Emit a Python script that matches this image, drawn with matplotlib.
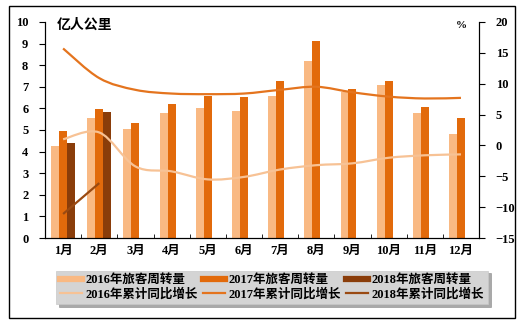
import numpy as np
import matplotlib
matplotlib.use("Agg")
import matplotlib.pyplot as plt
from matplotlib.path import Path
from matplotlib.patches import PathPatch, Rectangle
from matplotlib.lines import Line2D

plt.rcParams['font.family'] = ['Liberation Serif', 'Noto Sans CJK SC', 'DejaVu Sans']

months = ["1月", "2月", "3月", "4月", "5月", "6月", "7月", "8月", "9月", "10月", "11月", "12月"]

# 旅客周转量 (亿人公里)
pkm_2016 = [4.26, 5.54, 5.05, 5.79, 6.02, 5.88, 6.58, 8.19, 6.77, 7.08, 5.80, 4.81]
pkm_2017 = [4.95, 5.99, 5.32, 6.20, 6.57, 6.53, 7.27, 9.13, 6.90, 7.27, 6.08, 5.57]
pkm_2018 = [4.41, 5.82]

# 累计同比增长 (%)
gr_2016 = [1.0, 2.1, -3.4, -4.2, -5.5, -5.1, -3.9, -3.2, -2.9, -2.0, -1.6, -1.45]
gr_2017 = [15.7, 10.9, 9.0, 8.4, 8.3, 8.4, 9.0, 9.5, 8.6, 7.9, 7.6, 7.7]
gr_2018 = [-11.1, -6.1]

c16_bar, c17_bar, c18_bar = "#F9B983", "#E26A0B", "#8A3D0A"
c16_ln, c17_ln, c18_ln = "#F7C295", "#E4741E", "#9A4A12"


def smooth_path(x, y):
    # Bezier-Glättung der Linie
    pts = np.column_stack([x, y]).astype(float)
    n = len(pts)
    verts = [pts[0]]
    codes = [Path.MOVETO]
    for i in range(n - 1):
        p0 = pts[i - 1] if i > 0 else pts[i]
        p1 = pts[i]
        p2 = pts[i + 1]
        p3 = pts[i + 2] if i + 2 < n else pts[i + 1]
        c1 = p1 + (p2 - p0) / 6.0
        c2 = p2 - (p3 - p1) / 6.0
        verts += [c1, c2, p2]
        codes += [Path.CURVE4] * 3
    return Path(verts, codes)


fig = plt.figure(figsize=(5.27, 3.27), dpi=100)
ax = fig.add_axes([0.0854, 0.272, 0.8236, 0.661])
ax2 = ax.twinx()

x = np.arange(len(months))
w = 0.22
ax.bar(x - w, pkm_2016, w, color=c16_bar, zorder=2)
ax.bar(x, pkm_2017, w, color=c17_bar, zorder=2)
ax.bar(x[:len(pkm_2018)] + w, pkm_2018, w, color=c18_bar, zorder=2)

for vals, col, lw in [(gr_2016, c16_ln, 1.6), (gr_2017, c17_ln, 1.6), (gr_2018, c18_ln, 1.6)]:
    xs = x[:len(vals)]
    ax2.add_patch(PathPatch(smooth_path(xs, vals), facecolor="none", edgecolor=col,
                            lw=lw, capstyle="butt", zorder=3))

ax.set_xlim(-0.5, 11.5)
ax.set_ylim(0, 10)
ax.set_yticks(range(0, 11))
ax2.set_ylim(-15, 20)
ax2.set_yticks(range(-15, 21, 5))

ax.set_xticks(x)
ax.set_xticklabels(months)
ax.set_xticks(np.arange(-0.5, 12, 1), minor=True)
ax.tick_params(axis="x", which="major", length=0, pad=5)
ax.tick_params(axis="x", which="minor", direction="in", length=3)

for lab in ax.get_xticklabels() + ax.get_yticklabels() + ax2.get_yticklabels():
    lab.set_fontsize(9)
    lab.set_fontweight("bold")
ax.tick_params(axis="y", length=4, pad=8)
ax2.tick_params(axis="y", length=4, pad=8)

for a in (ax, ax2):
    a.spines["top"].set_visible(False)
    for s in ("left", "right", "bottom"):
        a.spines[s].set_color("black")
        a.spines[s].set_linewidth(0.8)

ax.text(0.028, 0.985, "亿人公里", transform=ax.transAxes, fontsize=10, fontweight="bold",
        family=["Noto Sans CJK SC"], ha="left", va="center")
ax2.text(0.96, 0.985, "%", transform=ax2.transAxes, fontsize=8, fontweight="bold",
         ha="center", va="center")

handles = [
    Line2D([], [], color=c16_bar, lw=4.5),
    Line2D([], [], color=c16_ln, lw=1.6),
    Line2D([], [], color=c17_bar, lw=4.5),
    Line2D([], [], color=c17_ln, lw=1.6),
    Line2D([], [], color=c18_bar, lw=4.5),
    Line2D([], [], color=c18_ln, lw=1.6),
]
labels = ["2016年旅客周转量", "2016年累计同比增长", "2017年旅客周转量",
          "2017年累计同比增长", "2018年旅客周转量", "2018年累计同比增长"]
leg = fig.legend(handles, labels, ncol=3, loc="center", bbox_to_anchor=(0.516, 0.121),
                 frameon=True, fancybox=False,
                 shadow={"color": "#707070", "alpha": 0.6},
                 handlelength=1.8, handletextpad=0.25, columnspacing=0.4, labelspacing=0.15,
                 borderpad=0.3, prop={"family": ["Liberation Serif", "Noto Sans CJK SC"],
                                      "size": 9, "weight": "bold"})
leg.get_frame().set_facecolor("#D4D4D4")
leg.get_frame().set_edgecolor("#C8C8C8")
leg.get_frame().set_linewidth(0.5)

fig.patches.append(Rectangle((0.017, 0.0275), 0.960, 0.954, transform=fig.transFigure,
                             fill=False, edgecolor="black", lw=1.0))

fig.savefig("out.png", dpi=100)
